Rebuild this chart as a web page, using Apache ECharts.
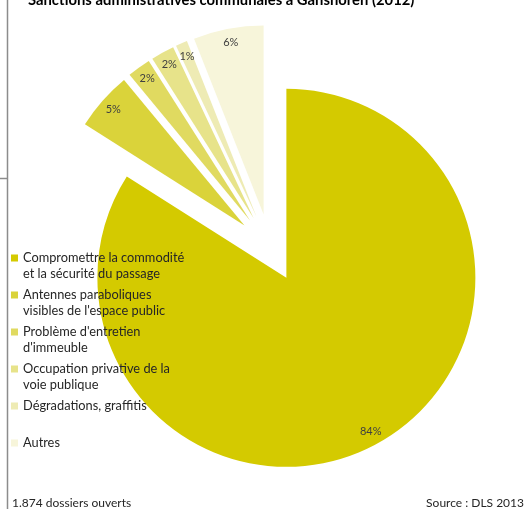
<!DOCTYPE html>
<html><head><meta charset="utf-8">
<script src="https://cdn.jsdelivr.net/npm/echarts@6/dist/echarts.min.js"></script>
<style>html,body{margin:0;padding:0;background:#fff}#c{width:525px;height:509px}</style>
</head><body><div id="c"></div>
<script>
const categories = [
  'Compromettre la commodité et la sécurité du passage',
  "Antennes paraboliques visibles de l'espace public",
  "Problème d'entretien d'immeuble",
  'Occupation privative de la voie publique',
  'Dégradations, graffitis',
  'Autres'
];
const legendLines = [
  ['Compromettre la commodité', 'et la sécurité du passage'],
  ['Antennes paraboliques', "visibles de l'espace public"],
  ["Problème d'entretien", "d'immeuble"],
  ['Occupation privative de la', 'voie publique'],
  ['Dégradations, graffitis', ' '],
  ['Autres', ' ']
];
const values = [84, 5, 2, 2, 1, 6];
const colors = ['#D4CA00', '#DAD33A', '#E0DA60', '#E7E38A', '#EEEBB4', '#F7F5DA'];
const titleText = 'Sanctions administratives communales à Ganshoren (2012)';
const footLeft = '1.874 dossiers ouverts';
const footRight = 'Source : DLS 2013';

const FONT = 'Lato, "Open Sans", sans-serif';
const chart = echarts.init(document.getElementById('c'), null, {renderer: 'canvas'});
const center = [270, 248];
const R = 189;
const offset = 34;

const mainData = categories.map((n, i) => ({name: n, value: values[i], selected: true, itemStyle: {color: colors[i]}}));
const labelData = categories.map((n, i) => ({name: n, value: values[i], selected: true, itemStyle: {color: 'rgba(0,0,0,0)'}}));

// square icon placed at the first text line of a two-line legend item
const legendIcon = 'path://M0,4.5h7v7h-7z M0,0h0.01v0.01h-0.01z M6.99,31.99h0.01v0.01h-0.01z';

chart.setOption({
  animation: false,
  backgroundColor: '#fff',
  legend: {
    orient: 'vertical',
    left: 11,
    top: 250,
    padding: 0,
    itemWidth: 7,
    itemHeight: 32,
    itemGap: 5,
    icon: legendIcon,
    selectedMode: false,
    data: categories,
    formatter: name => legendLines[categories.indexOf(name)].join('\n'),
    textStyle: {fontFamily: FONT, fontSize: 12.8, color: '#262626', lineHeight: 16}
  },
  graphic: [
    {type: 'line', shape: {x1: 7.5, y1: 0, x2: 7.5, y2: 509}, style: {stroke: '#8c8c8c', lineWidth: 1.5}, silent: true},
    {type: 'line', shape: {x1: 0, y1: 178.5, x2: 7, y2: 178.5}, style: {stroke: '#8c8c8c', lineWidth: 1.5}, silent: true},
    {type: 'text', x: 28, y: 0, style: {text: titleText, font: 'bold 14.8px ' + FONT, fill: '#000', verticalAlign: 'middle'}, silent: true},
    {type: 'text', x: 12, y: 503, style: {text: footLeft, font: '12px ' + FONT, fill: '#262626', verticalAlign: 'middle'}, silent: true},
    {type: 'text', x: 524, y: 503, style: {text: footRight, font: '12px ' + FONT, fill: '#262626', align: 'right', verticalAlign: 'middle'}, silent: true}
  ],
  series: [
    {
      type: 'pie', center: center, radius: [0, R], startAngle: 90, clockwise: true,
      selectedMode: 'multiple', selectedOffset: offset,
      label: {show: false}, labelLine: {show: false},
      emphasis: {disabled: true}, itemStyle: {borderWidth: 0},
      data: mainData
    },
    {
      type: 'pie', center: center, radius: [155, R], startAngle: 90, clockwise: true,
      selectedMode: 'multiple', selectedOffset: offset, legendHoverLink: false,
      avoidLabelOverlap: false, minShowLabelAngle: 0,
      labelLayout: {hideOverlap: false},
      label: {show: true, position: 'inside', formatter: '{d}%', fontFamily: FONT, fontSize: 11, color: '#404040'},
      labelLine: {show: false},
      emphasis: {disabled: true}, itemStyle: {borderWidth: 0},
      data: labelData
    }
  ]
});
</script></body></html>
